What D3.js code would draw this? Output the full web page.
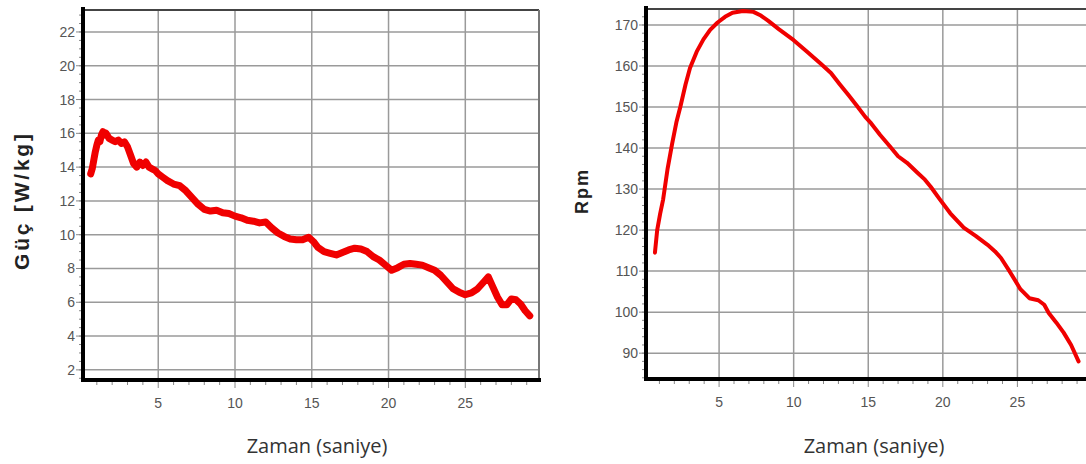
<!DOCTYPE html>
<html>
<head>
<meta charset="utf-8">
<script src="https://cdn.jsdelivr.net/npm/d3@7"></script>
<style>
  body { margin: 0; background: #fff; }
  svg { display: block; }
</style>
</head>
<body>
<div id="chart"></div>
<script>
// power data (time in s, W/kg)
var powerTime = [0.6,0.7,0.8,0.9,1.0,1.1,1.2,1.3,1.4,1.5,1.6,1.8,2.0,2.2,2.4,2.6,2.8,3.0,3.2,3.4,3.6,3.8,4.0,4.2,4.4,4.6,4.8,5.0,5.3,5.6,6.0,6.4,6.8,7.2,7.6,8.0,8.4,8.8,9.2,9.6,10.0,10.4,10.8,11.2,11.6,12.0,12.4,12.8,13.2,13.6,14.0,14.4,14.8,15.1,15.4,15.8,16.2,16.6,17.0,17.4,17.8,18.2,18.6,19.0,19.4,19.8,20.2,20.6,21.0,21.4,21.8,22.2,22.6,23.0,23.4,23.8,24.2,24.6,25.0,25.4,25.8,26.2,26.5,26.8,27.1,27.4,27.7,28.0,28.3,28.6,28.9,29.2];
var powerVal = [13.6,13.9,14.4,14.9,15.3,15.6,15.5,15.9,16.1,15.9,16.0,15.7,15.6,15.5,15.6,15.4,15.5,15.2,14.7,14.2,14.0,14.3,14.1,14.3,14.0,13.9,13.8,13.6,13.4,13.2,13.0,12.9,12.6,12.2,11.8,11.5,11.4,11.45,11.3,11.25,11.1,11.0,10.85,10.8,10.7,10.75,10.4,10.1,9.9,9.75,9.7,9.7,9.85,9.6,9.25,9.0,8.9,8.8,8.95,9.1,9.2,9.15,9.0,8.7,8.5,8.2,7.9,8.05,8.25,8.3,8.25,8.2,8.05,7.9,7.6,7.2,6.8,6.6,6.45,6.55,6.8,7.2,7.5,6.9,6.3,5.85,5.85,6.2,6.15,5.9,5.5,5.2];

// cadence data (time in s, rpm)
var rpmTime = [0.7,0.85,1.05,1.25,1.55,1.85,2.15,2.4,2.75,3.05,3.5,3.95,4.4,4.9,5.4,5.9,6.6,7.3,7.8,8.3,9.0,10.0,10.9,11.8,12.5,13.1,13.7,14.3,14.8,15.2,15.8,16.5,17.0,17.6,18.3,18.8,19.2,19.8,20.5,21.4,22.2,23.0,23.5,23.9,24.5,25.2,25.8,26.4,26.8,27.1,27.6,28.1,28.6,29.1];
var rpmVal = [114.5,120,124,127.5,135,141,146.5,150,155.5,159.5,163.5,166.5,168.8,170.6,172,173,173.4,173.2,172.3,171,169,166.3,163.5,160.6,158.3,155.5,152.8,150,147.6,146,143.2,140.2,138,136.4,134,132.3,130.5,127.5,124.1,120.6,118.6,116.4,114.8,113.2,109.8,105.6,103.4,102.9,101.8,99.8,97.5,95,92,88];

var xTicks = [5,10,15,20,25];
var powerTicks = [2,4,6,8,10,12,14,16,18,20,22];
var rpmTicks = [90,100,110,120,130,140,150,160,170];

var xLabel = "Zaman (saniye)";
var powerLabel = "Güç [W/kg]";
var rpmLabel = "Rpm";

var W = 1086, H = 464;
var svg = d3.select("#chart").append("svg").attr("width", W).attr("height", H);

function drawChart(cfg){
  var x = d3.scaleLinear().domain(cfg.xDomain).range([cfg.left, cfg.right]);
  var y = d3.scaleLinear().domain(cfg.yDomain).range([cfg.bottom, cfg.top]);
  var g = svg.append("g");

  // grid
  g.selectAll(".hgrid").data(cfg.yTicks).enter().append("line")
    .attr("x1", cfg.left).attr("x2", cfg.right)
    .attr("y1", function(d){return y(d);}).attr("y2", function(d){return y(d);})
    .attr("stroke", "#9a9a9a").attr("stroke-width", 1.5);
  g.selectAll(".vgrid").data(xTicks).enter().append("line")
    .attr("x1", function(d){return x(d);}).attr("x2", function(d){return x(d);})
    .attr("y1", cfg.top).attr("y2", cfg.bottom)
    .attr("stroke", "#9a9a9a").attr("stroke-width", 1.5);

  // top and right border
  g.append("line").attr("x1", cfg.left).attr("x2", cfg.right).attr("y1", cfg.top).attr("y2", cfg.top)
    .attr("stroke", "#444").attr("stroke-width", 2);
  g.append("line").attr("x1", cfg.right).attr("x2", cfg.right).attr("y1", cfg.top).attr("y2", cfg.bottom)
    .attr("stroke", "#777").attr("stroke-width", 2);

  // minor ticks
  var xm = d3.range(1, 30, 1);
  g.selectAll(".xminor").data(xm).enter().append("line")
    .attr("x1", function(d){return x(d);}).attr("x2", function(d){return x(d);})
    .attr("y1", cfg.bottom).attr("y2", function(d){return cfg.bottom + (d % 5 === 0 ? 8 : 5);})
    .attr("stroke", "#888").attr("stroke-width", 1);
  var ym = d3.range(Math.ceil(cfg.yDomain[0]/cfg.yMinor)*cfg.yMinor, cfg.yDomain[1], cfg.yMinor);
  g.selectAll(".yminor").data(ym).enter().append("line")
    .attr("x1", cfg.left - 4).attr("x2", cfg.left)
    .attr("y1", function(d){return y(d);}).attr("y2", function(d){return y(d);})
    .attr("stroke", "#888").attr("stroke-width", 1);
  g.selectAll(".ymajor").data(cfg.yTicks).enter().append("line")
    .attr("x1", cfg.left - 7).attr("x2", cfg.left)
    .attr("y1", function(d){return y(d);}).attr("y2", function(d){return y(d);})
    .attr("stroke", "#888").attr("stroke-width", 1);

  // tick labels
  g.selectAll(".ylab").data(cfg.yTicks).enter().append("text")
    .attr("x", cfg.left - 8).attr("y", function(d){return y(d) + 5;})
    .attr("text-anchor", "end")
    .style("font-family", "'Liberation Sans Narrow', Arial, sans-serif")
    .style("font-size", "14px").style("fill", "#555")
    .text(function(d){return d;});
  g.selectAll(".xlab").data(xTicks).enter().append("text")
    .attr("x", function(d){return x(d);}).attr("y", cfg.bottom + 28)
    .attr("text-anchor", "middle")
    .style("font-family", "'Liberation Sans Narrow', Arial, sans-serif")
    .style("font-size", "14px").style("fill", "#555")
    .text(function(d){return d;});

  // data line
  var pts = cfg.xs.map(function(t, i){return [t, cfg.ys[i]];});
  var line = d3.line().x(function(d){return x(d[0]);}).y(function(d){return y(d[1]);})
    .curve(d3.curveLinear);
  g.append("path").datum(pts).attr("d", line)
    .attr("fill", "none").attr("stroke", "#f00000")
    .attr("stroke-width", cfg.lineWidth).attr("stroke-linejoin", "round").attr("stroke-linecap", "round");

  // thick axes
  g.append("line").attr("x1", cfg.left).attr("x2", cfg.left).attr("y1", cfg.top - 3).attr("y2", cfg.bottom + 2)
    .attr("stroke", "#000").attr("stroke-width", 4);
  g.append("line").attr("x1", cfg.left - 2).attr("x2", cfg.right + 2).attr("y1", cfg.bottom).attr("y2", cfg.bottom)
    .attr("stroke", "#000").attr("stroke-width", 4);

  // axis titles
  g.append("text")
    .attr("transform", "translate(" + cfg.yTitleX + "," + cfg.yTitleY + ") rotate(-90)")
    .attr("text-anchor", "middle")
    .attr("textLength", cfg.yTitleLen).attr("lengthAdjust", "spacing")
    .style("font-family", "Arial, 'Liberation Sans', sans-serif")
    .style("font-size", cfg.yTitleSize + "px").style("font-weight", "bold").style("fill", "#222")
    .text(cfg.yTitle);
  g.append("text")
    .attr("x", cfg.xTitleX).attr("y", 453)
    .attr("text-anchor", "middle")
    .style("font-family", "'Open Sans', sans-serif")
    .style("font-size", "20px").style("fill", "#333")
    .text(xLabel);
}

drawChart({
  left: 83, right: 539, top: 10, bottom: 380,
  xDomain: [0.1, 29.8], yDomain: [1.4, 23.3],
  yTicks: powerTicks, yMinor: 0.5,
  xs: powerTime, ys: powerVal, lineWidth: 7,
  yTitle: powerLabel, yTitleX: 29, yTitleY: 202, yTitleLen: 136, yTitleSize: 21,
  xTitleX: 317
});

drawChart({
  left: 646, right: 1089, top: 9, bottom: 379,
  xDomain: [0.1, 29.8], yDomain: [83.7, 173.9],
  yTicks: rpmTicks, yMinor: 2,
  xs: rpmTime, ys: rpmVal, lineWidth: 4,
  yTitle: rpmLabel, yTitleX: 588, yTitleY: 192, yTitleLen: 44, yTitleSize: 18,
  xTitleX: 874
});
</script>
</body>
</html>
